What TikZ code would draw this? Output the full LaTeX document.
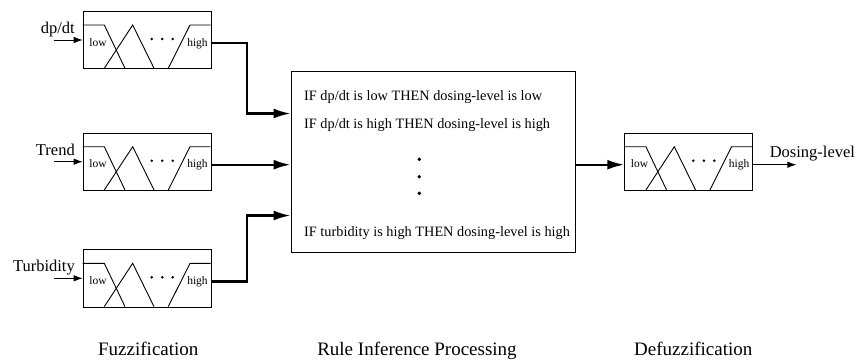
\documentclass[tikz,border=0pt]{standalone}
\usepackage{fontspec}
\setmainfont{Liberation Serif}
\usepackage{tikz}
\usetikzlibrary{calc}
\usetikzlibrary{arrows.meta}
\tikzset{>=latex}
\def\W{128}
\def\H{57.3}

\tikzset{
	mfbox/.style={draw,line width=0.9pt,minimum width=\W pt,minimum height=\H pt,
		inner sep=0pt,anchor=north west},
	mfline/.style={line width=0.9pt},
	mflbl/.style={font=\fontsize{11.5}{12}\selectfont,inner sep=0pt,anchor=base},
	iolbl/.style={font=\fontsize{16.5}{18}\selectfont,inner sep=0pt},
	ruletxt/.style={font=\fontsize{14.3}{16}\selectfont,inner sep=0pt,anchor=base west},
	stagelbl/.style={font=\fontsize{19}{21}\selectfont,inner sep=0pt,anchor=base},
	rulebox/.style={draw,line width=0.9pt,minimum width=284pt,minimum height=181pt,inner sep=0pt},
	sig/.style={-{Latex[length=9pt,width=6.5pt]},line width=0.9pt},
	flow/.style={-{Latex[length=17pt,width=10pt]},line width=2.4pt},
	pics/mfset/.style={code={
		\node[mfbox] (-box) at (0,0) {};
		% membership functions
		\draw[mfline] (0,14) -- (21.6,14) -- (42.3,\H);
		\draw[mfline] (21.6,\H) -- (50,14) -- (71.3,\H);
		\draw[mfline] (85.6,\H) -- (107.3,14) -- (\W,14);
		\fill (69,28) circle (1.4pt) (79.6,28) circle (1.4pt) (90,28) circle (1.4pt);
		\node[mflbl] (-low) at (15.3,35) {low};
		\node[mflbl] (-high) at (114.8,35) {high};
		\coordinate (-in) at (0,29);
		\coordinate (-out) at (\W,32);
	}},
}

\begin{document}
\begin{tikzpicture}[x=1pt,y=-1pt]
	\useasboundingbox (0,0) rectangle (857,360);
	
	% FUZZIFICATION
	\pic (f1) at (82.7,11) {mfset};
	\pic (f2) at (82.7,132.7) {mfset};
	\pic (f3) at (82.7,249.3) {mfset};
	
	\coordinate (src1) at ([xshift=-29pt]f1-in);
	\coordinate (src2) at ([xshift=-29pt]f2-in);
	\coordinate (src3) at ([xshift=-29pt]f3-in);
	\draw[sig] (src1) -- (f1-in);
	\draw[sig] (src2) -- (f2-in);
	\draw[sig] (src3) -- (f3-in);
	\node[iolbl,anchor=base east] (dpdt) at ([xshift=-7.7pt,yshift=6.7pt]f1-in) {dp/dt};
	\node[iolbl,anchor=base east] (trend) at ([xshift=-7.7pt,yshift=6.7pt]f2-in) {Trend};
	\node[iolbl,anchor=base east] (turb) at ([xshift=-7.7pt,yshift=6.7pt]f3-in) {Turbidity};
	
	% RULES
	\node[rulebox] (rule) at (433,161.5) {};
	\node[ruletxt] (r1) at (304,100) {IF dp/dt is low THEN dosing-level is low};
	\node[ruletxt] (r2) at (304,128.3) {IF dp/dt is high THEN dosing-level is high};
	\node[ruletxt] (rn) at (304,236.7) {IF turbidity is high THEN dosing-level is high};
	\fill (419.3,159.3) circle (1.9pt) (419.3,176.7) circle (1.9pt) (419.3,193.3) circle (1.9pt);
	
	\draw[flow] (f1-out) -- ++(36.3,0) |- ([yshift=48pt]rule.west);
	\draw[flow] (f2-out) -- (f2-out -| rule.west);
	\draw[flow] (f3-out) -- ++(36.3,0) |- ([yshift=-54pt]rule.west);
	
	% DEFUZZIFICATION
	\pic (dz) at (624.3,132.7) {mfset};
	\draw[flow] (rule.east |- dz-out) -- (dz-out -| dz-box.west);
	\draw[sig] (dz-out) -- ++(44,0) coordinate (dose);
	\node[iolbl,anchor=base west] (doselbl) at ([xshift=17.3pt,yshift=7.4pt]dz-out) {Dosing-level};
	
	% STAGES
	\node[stagelbl] (s1) at (148.3,355.7) {Fuzzification};
	\node[stagelbl] (s2) at (417,355.7) {Rule Inference Processing};
	\node[stagelbl] (s3) at (693.3,355.7) {Defuzzification};
\end{tikzpicture}
\end{document}
